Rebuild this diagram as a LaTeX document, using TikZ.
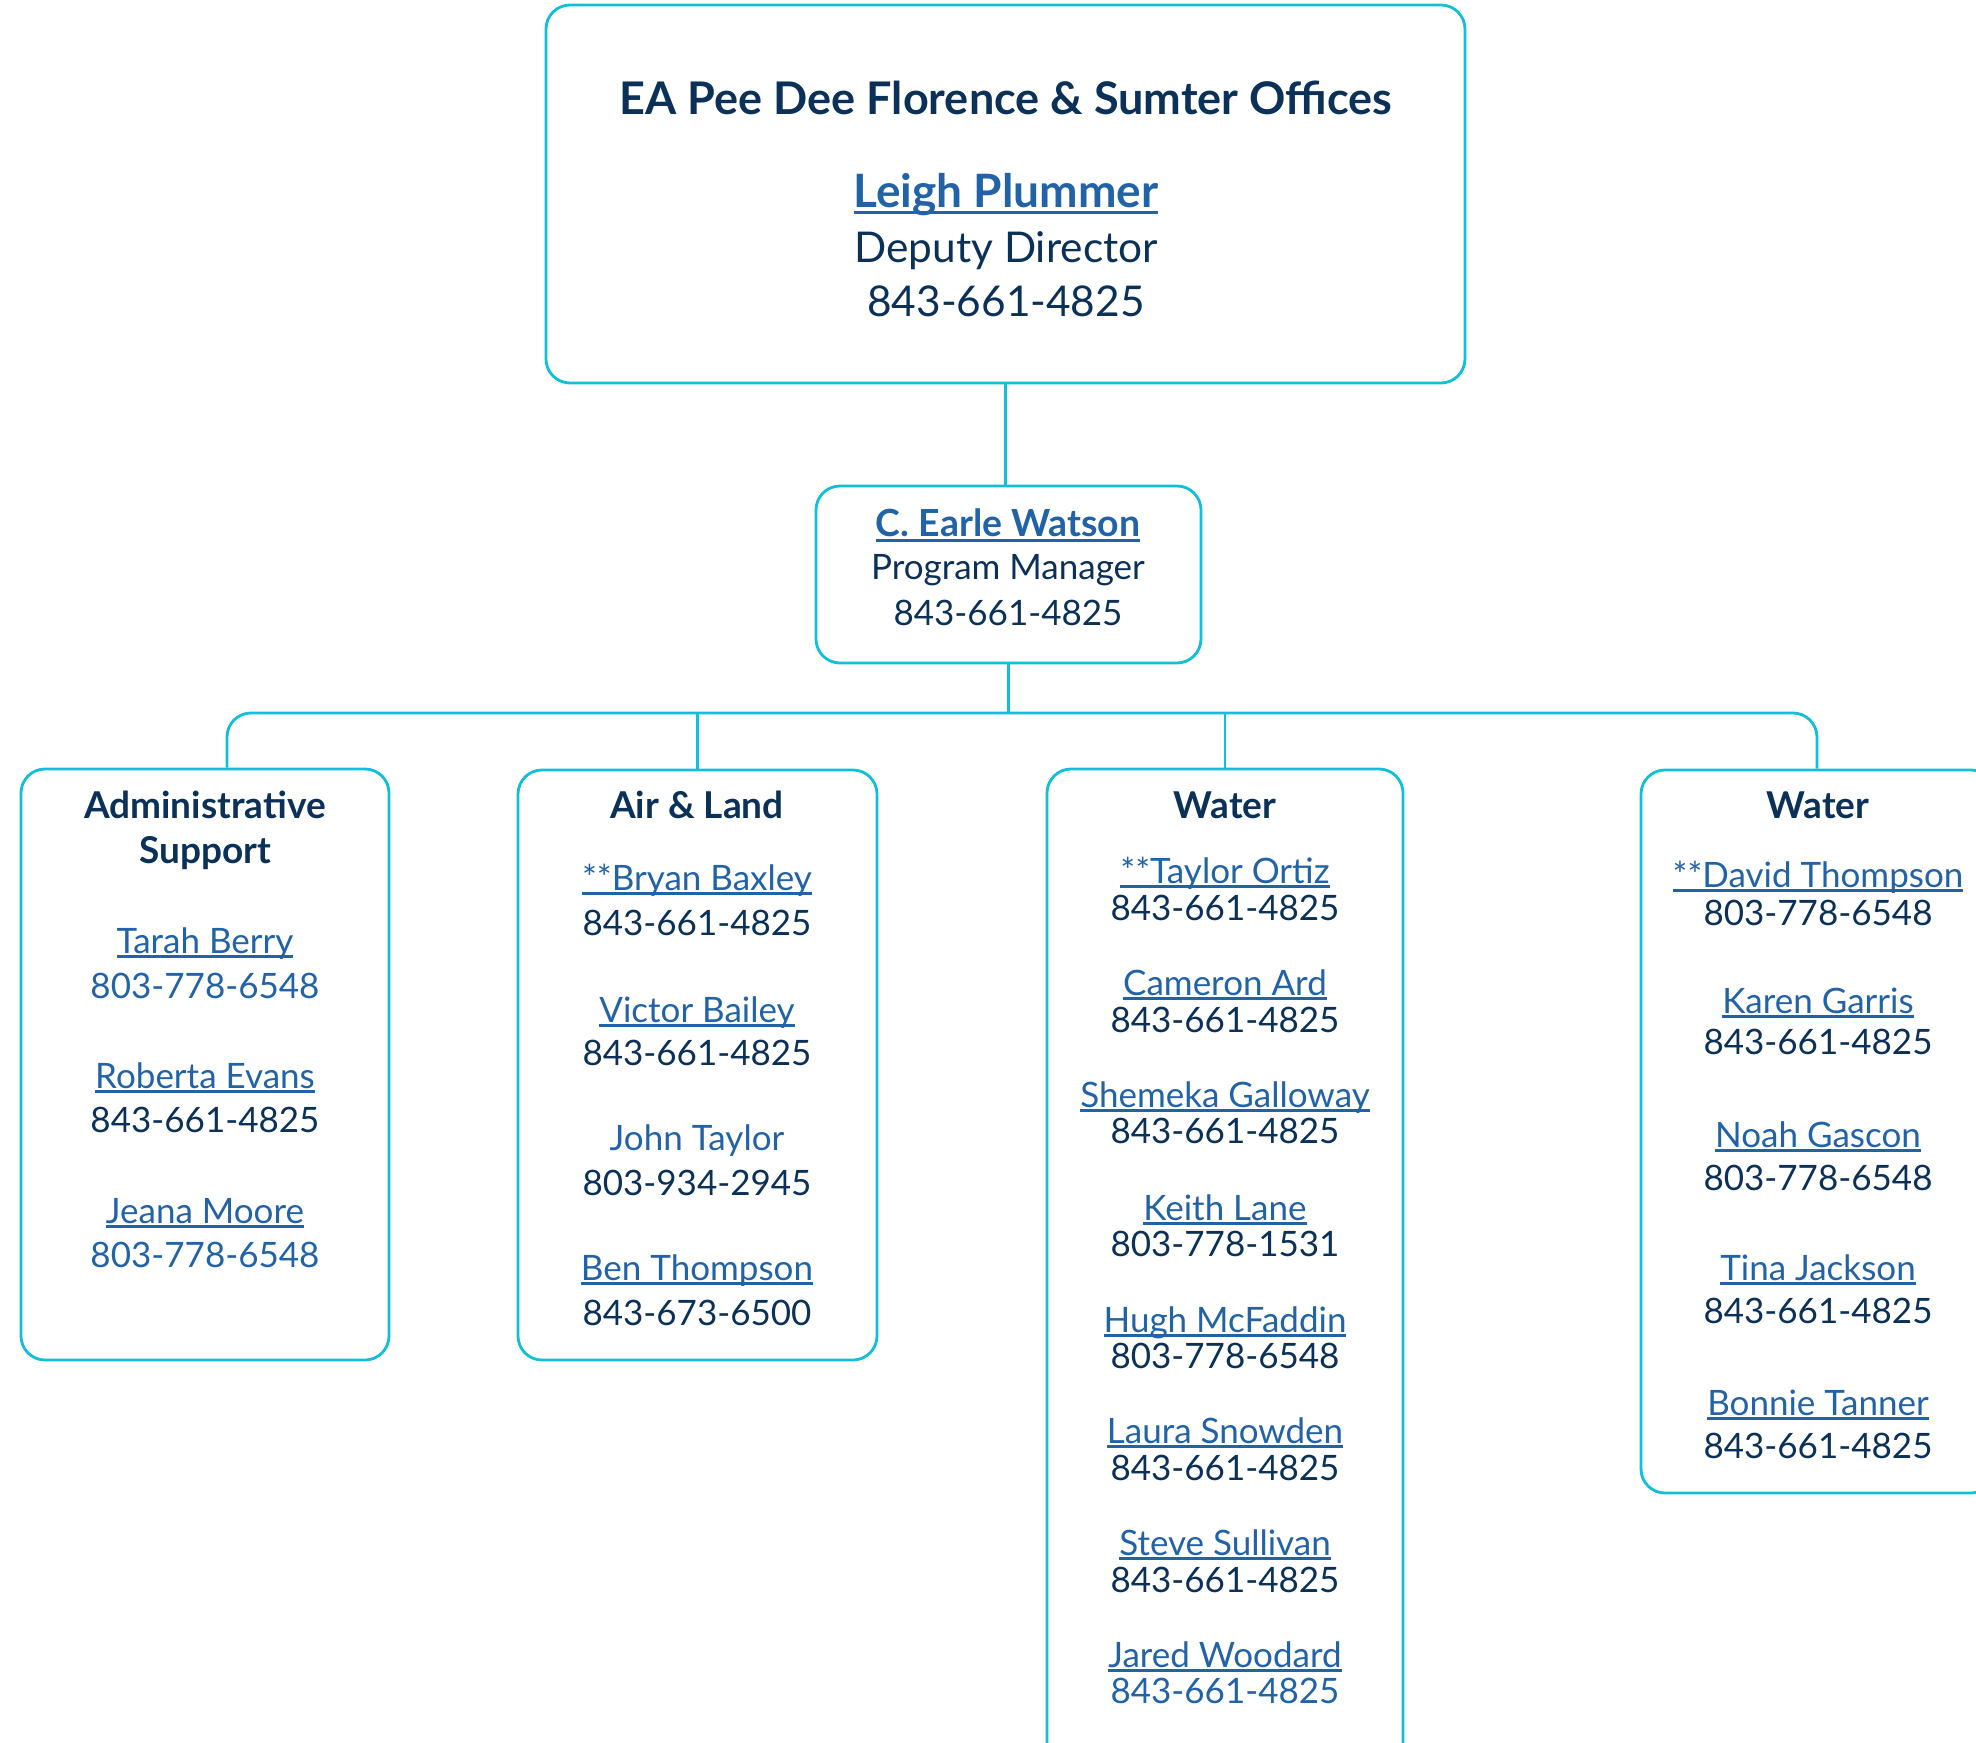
\documentclass[tikz,border=0pt]{standalone}
\usepackage{fontspec}
\setmainfont{Lato}
\usepackage{tikz}
\usetikzlibrary{positioning,fit}

\definecolor{linecyan}{HTML}{12BFD9}
\definecolor{textnavy}{HTML}{0B3158}
\definecolor{linkblue}{HTML}{2262A6}

\newsavebox\ulbox
\newcommand{\ulink}[1]{\sbox\ulbox{#1}\rlap{\rule[-0.14em]{\wd\ulbox}{0.075em}}\usebox\ulbox}

\begin{document}
\begin{tikzpicture}[x=0.5pt,y=-0.5pt]
    \tikzset{
      orgbox/.style={rectangle,rounded corners=12pt,draw=linecyan,line width=1.4pt,inner sep=0pt},
      link/.style={draw=linecyan,line width=1.4pt,rounded corners=12pt},
      txt/.style={anchor=base,inner sep=0pt,text=textnavy,font=\fontsize{17.5}{21}\selectfont},
      head/.style={txt,font=\bfseries\fontsize{18.5}{22}\selectfont},
      person/.style={txt,text=linkblue},
      bigtxt/.style={txt,font=\fontsize{21.2}{25}\selectfont},
      bighead/.style={txt,font=\bfseries\fontsize{22.5}{27}\selectfont}
    }
    \useasboundingbox (0,0) rectangle (1976,1743);
    \clip (0,0) rectangle (1976,1743);

    % boxes
    \node[orgbox,fit={(546,5) (1465,383)}](office){};
    \node[orgbox,fit={(816,486) (1201,663)}](manager){};
    \node[orgbox,fit={(21,769) (389,1360)}](admin){};
    \node[orgbox,fit={(518,770) (877,1360)}](airland){};
    \node[orgbox,fit={(1047,769) (1403,1800)}](watera){};
    \node[orgbox,fit={(1641,770) (1995,1493)}](waterb){};

    % connectors
    \coordinate (busl) at (227,713);
    \coordinate (busr) at (1817,713);
    \coordinate (bus) at (manager.south |- busl);
    \draw[link](office.south) -- (office.south |- manager.north);
    \draw[link](manager.south) -- (bus);
    \draw[link](busl |- admin.north) |- (bus) -| (busr |- waterb.north);
    \draw[link](airland.north) -- (airland.north |- bus);
    \draw[link](watera.north) -- (watera.north |- bus);

    % top office
    \node[bighead](officetitle) at (1006,115){EA Pee Dee Florence \& Sumter Offices};
    \node[bighead,font=\bfseries\fontsize{23}{27}\selectfont,text=linkblue](plummer) at (1006,208){\ulink{Leigh Plummer}};
    \node[bigtxt](plummerrole) at (1006,263){Deputy Director};
    \node[bigtxt](plummerphone) at (1006,317){843-661-4825};

    % program manager
    \node[head,font=\bfseries\fontsize{18.7}{22}\selectfont,text=linkblue](watson) at (1008,537){\ulink{C. Earle Watson}};
    \node[txt](watsonrole) at (1008,580){Program Manager};
    \node[txt](watsonphone) at (1008,625){843-661-4825};

    % administrative support
    \node[head](admintitle) at (205,818){Administrative};
    \node[head](admintitle2) at (205,863){Support};
    \node[person](berry) at (205,953){\ulink{Tarah Berry}};
    \node[txt,text=linkblue](berryphone) at (205,998){803-778-6548};
    \node[person](evans) at (205,1088){\ulink{Roberta Evans}};
    \node[txt](evansphone) at (205,1132){843-661-4825};
    \node[person](moore) at (205,1223){\ulink{Jeana Moore}};
    \node[txt,text=linkblue](moorephone) at (205,1267){803-778-6548};

    % air and land
    \node[head](airlandtitle) at (697,818){Air \& Land};
    \node[person](baxley) at (697,890){\ulink{**Bryan Baxley}};
    \node[txt](baxleyphone) at (697,935){843-661-4825};
    \node[person](bailey) at (697,1022){\ulink{Victor Bailey}};
    \node[txt](baileyphone) at (697,1065){843-661-4825};
    \node[person](jtaylor) at (697,1150){John Taylor};
    \node[txt](jtaylorphone) at (697,1195){803-934-2945};
    \node[person](bthompson) at (697,1280){\ulink{Ben Thompson}};
    \node[txt](bthompsonphone) at (697,1325){843-673-6500};

    % water (first)
    \node[head](wateratitle) at (1225,818){Water};
    \node[person](ortiz) at (1225,883){\ulink{**Taylor Ortiz}};
    \node[txt](ortizphone) at (1225,920){843-661-4825};
    \node[person](ard) at (1225,995){\ulink{Cameron Ard}};
    \node[txt](ardphone) at (1225,1032){843-661-4825};
    \node[person](galloway) at (1225,1107){\ulink{Shemeka Galloway}};
    \node[txt](gallowayphone) at (1225,1143){843-661-4825};
    \node[person](lane) at (1225,1220){\ulink{Keith Lane}};
    \node[txt](lanephone) at (1225,1256){803-778-1531};
    \node[person](mcfaddin) at (1225,1332){\ulink{Hugh McFaddin}};
    \node[txt](mcfaddinphone) at (1225,1368){803-778-6548};
    \node[person](snowden) at (1225,1443){\ulink{Laura Snowden}};
    \node[txt](snowdenphone) at (1225,1480){843-661-4825};
    \node[person](sullivan) at (1225,1555){\ulink{Steve Sullivan}};
    \node[txt](sullivanphone) at (1225,1592){843-661-4825};
    \node[person](woodard) at (1225,1667){\ulink{Jared Woodard}};
    \node[txt,text=linkblue](woodardphone) at (1225,1703){843-661-4825};

    % water (second)
    \node[head](waterbtitle) at (1818,818){Water};
    \node[person](dthompson) at (1818,887){\ulink{**David Thompson}};
    \node[txt](dthompsonphone) at (1818,925){803-778-6548};
    \node[person](garris) at (1818,1013){\ulink{Karen Garris}};
    \node[txt](garrisphone) at (1818,1054){843-661-4825};
    \node[person](gascon) at (1818,1147){\ulink{Noah Gascon}};
    \node[txt](gasconphone) at (1818,1190){803-778-6548};
    \node[person](jackson) at (1818,1280){\ulink{Tina Jackson}};
    \node[txt](jacksonphone) at (1818,1323){843-661-4825};
    \node[person](tanner) at (1818,1415){\ulink{Bonnie Tanner}};
    \node[txt](tannerphone) at (1818,1458){843-661-4825};

  \end{tikzpicture}
\end{document}
